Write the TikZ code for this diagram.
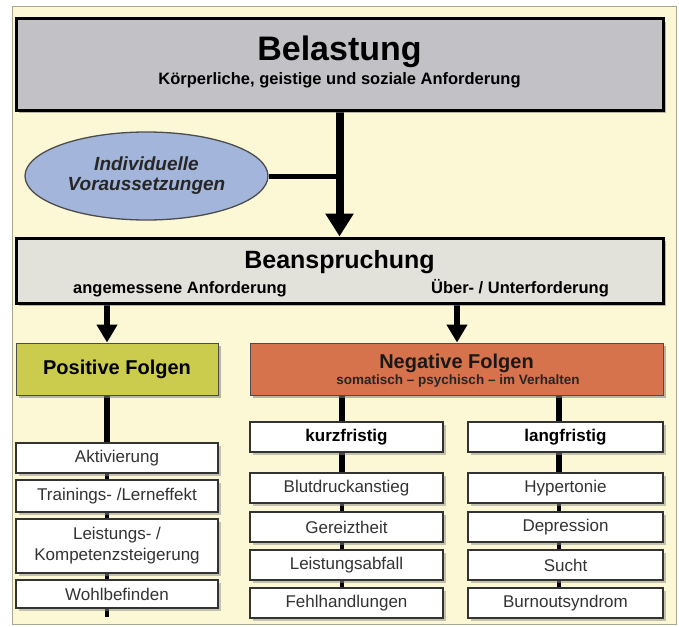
\documentclass[tikz,border=0pt]{standalone}
\usepackage{fontspec}
\setmainfont{Liberation Sans}
\usetikzlibrary{arrows.meta,positioning,shapes.geometric,shadows,backgrounds}
\definecolor{bgyellow}{HTML}{FCF8D6}
\definecolor{framecol}{HTML}{A8A890}
\definecolor{belgray}{HTML}{C2C2C6}
\definecolor{beangray}{HTML}{E3E2DA}
\definecolor{ellblue}{HTML}{A3B5DA}
\definecolor{posgreen}{HTML}{CBCB4E}
\definecolor{negorange}{HTML}{D6724C}
\definecolor{itemtext}{HTML}{333333}
\tikzset{
  boxshadow/.style={drop shadow={shadow xshift=3pt, shadow yshift=-3pt, fill=black!50, opacity=0.55}},
  bigbox/.style={draw=black, line width=3pt, minimum width=647pt, inner sep=0pt, boxshadow},
  folgebox/.style={draw=black!70, line width=1pt, minimum height=52pt, inner sep=0pt, boxshadow,
                   font=\bfseries\fontsize{20}{22}\selectfont},
  itembox/.style={draw=black!80, line width=1.1pt, fill=white, minimum width=202pt, minimum height=30pt,
                  inner sep=0pt, text=itemtext, font=\fontsize{17}{21}\selectfont, align=center,
                  drop shadow={shadow xshift=2.5pt, shadow yshift=-2.5pt, fill=black!45, opacity=0.5}},
  headbox/.style={itembox, text=black, font=\bfseries\fontsize{17}{20}\selectfont},
  subtext/.style={anchor=base, inner sep=0pt, font=\bfseries\fontsize{16.5}{18}\selectfont},
  cline/.style={line width=6.5pt},
  thinline/.style={line width=4.5pt},
  bigarrow/.style={line width=8pt, -{Triangle[length=23pt,width=27pt]}},
  midarrow/.style={line width=6pt, -{Triangle[length=18pt,width=20pt]}},
}

\begin{document}
\begin{tikzpicture}[x=1pt,y=-1pt]
  \useasboundingbox (0,0) rectangle (679,626);

  % Belastung
  \node[bigbox, fill=belgray, minimum height=91pt] (bel) at (339.5,64.5) {};
  \node[anchor=base, inner sep=0pt, font=\bfseries\fontsize{34}{36}\selectfont] (beltitle) at (339.5,60) {Belastung};
  \node[subtext] (belsub) at (339.5,84) {Körperliche, geistige und soziale Anforderung};

  \node[ellipse, draw=black!70, line width=1.3pt, fill=ellblue, minimum width=243pt, minimum height=88pt,
        inner sep=0pt, align=center, font=\bfseries\itshape\fontsize{19}{20}\selectfont, text=black!85]
        (ell) at (146.5,176) {Individuelle\\Voraussetzungen};

  % Beanspruchung
  \node[bigbox, fill=beangray, minimum height=65pt] (bean) at (339.5,270.5) {};
  \node[anchor=base, inner sep=0pt, font=\bfseries\fontsize{25}{27}\selectfont] (beantitle) at (339.5,268) {Beanspruchung};
  \node[subtext] (beanleft) at (180,293) {angemessene Anforderung};
  \node[subtext] (beanright) at (520,293) {Über- / Unterforderung};

  % Folgen
  \node[folgebox, fill=posgreen, minimum width=202pt] (pos) at (117,369) {Positive Folgen};
  \node[folgebox, fill=negorange, minimum width=413pt] (neg) at (456.5,369) {};
  \node[anchor=base, inner sep=0pt, text=black!90, font=\bfseries\fontsize{20}{22}\selectfont] (negtitle) at (456.5,368) {Negative Folgen};
  \node[anchor=base, inner sep=0pt, text=black!85, font=\bfseries\fontsize{13.5}{15}\selectfont] (negsub) at (458,384) {somatisch -- psychisch -- im Verhalten};

  % positive column
  \node[itembox] (akt) at (117,458) {Aktivierung};
  \node[itembox, minimum height=32pt] (tra) at (117,496) {Trainings- /Lerneffekt};
  \node[itembox, minimum height=54pt] (lei) at (117,546) {Leistungs- /\\Kompetenzsteigerung};
  \node[itembox, minimum height=28pt] (woh) at (117,594) {Wohlbefinden};

  % negative columns
  \node[headbox, minimum width=193pt] (kurz) at (346.5,437) {kurzfristig};
  \node[headbox, minimum width=195pt] (lang) at (565.5,437) {langfristig};

  \node[itembox, minimum width=193pt] (blut) at (346.5,488) {Blutdruckanstieg};
  \node[itembox, minimum width=193pt] (ger)  at (346.5,527) {Gereiztheit};
  \node[itembox, minimum width=193pt] (abf)  at (346.5,565) {Leistungsabfall};
  \node[itembox, minimum width=193pt] (feh)  at (346.5,603) {Fehlhandlungen};

  \node[itembox, minimum width=195pt] (hyp) at (565.5,488) {Hypertonie};
  \node[itembox, minimum width=195pt] (dep) at (565.5,527) {Depression};
  \node[itembox, minimum width=195pt] (such) at (565.5,565) {Sucht};
  \node[itembox, minimum width=195pt] (burn) at (565.5,603) {Burnoutsyndrom};

  \coordinate (px) at (107,0);
  \coordinate (kx) at (342,0);
  \coordinate (lx) at (559,0);
  \coordinate (nx) at (457,0);
  \coordinate (pend) at (107,617);

  \begin{scope}[on background layer]
    \fill[white] (0,0) rectangle (679,626);
    \draw[framecol, fill=bgyellow, line width=1pt] (12,7) rectangle (676,624);

    \draw[bigarrow] (bel.south) -- (bean.north);
    \draw[line width=5pt] (ell.east) -- (ell.east -| bel.south);

    \draw[midarrow] (bean.south -| px) -- (pos.north -| px);
    \draw[midarrow] (bean.south -| nx) -- (neg.north -| nx);

    \draw[cline] (pos.south -| px) -- (akt.north -| px);
    \draw[thinline] (akt.south -| px) -- (pend);

    \draw[cline] (neg.south -| kx) -- (kurz.north -| kx);
    \draw[cline] (kurz.south -| kx) -- (blut.north -| kx);
    \draw[thinline] (blut.south -| kx) -- (feh.north -| kx);

    \draw[cline] (neg.south -| lx) -- (lang.north -| lx);
    \draw[cline] (lang.south -| lx) -- (hyp.north -| lx);
    \draw[thinline] (hyp.south -| lx) -- (burn.north -| lx);
  \end{scope}
\end{tikzpicture}
\end{document}
